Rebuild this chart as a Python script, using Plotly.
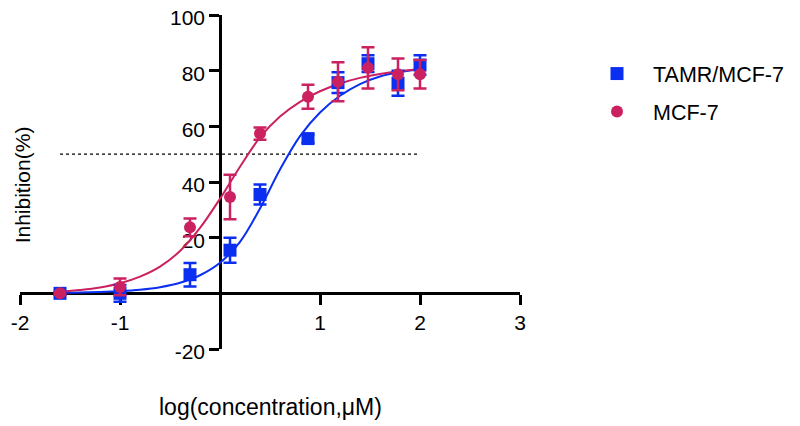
import plotly.graph_objects as go

# Data (log10 concentration, µM)
log_conc = [-1.6, -1.0, -0.3, 0.1, 0.4, 0.88, 1.18, 1.48, 1.78, 2.0]

tamr_mean = [0.0, 0.0, 6.7, 15.5, 35.5, 55.6, 75.7, 82.5, 75.5, 82.0]
tamr_err = [0.5, 3.0, 4.2, 4.5, 3.6, 1.5, 3.7, 3.0, 4.5, 3.5]

mcf7_mean = [0.0, 2.3, 23.7, 34.6, 57.4, 70.6, 76.0, 81.0, 78.7, 78.7]
mcf7_err = [0.5, 3.0, 3.2, 8.0, 2.2, 4.3, 7.0, 7.4, 5.7, 5.1]

# Fitted curves
curve_x = [-1.6, -1.4, -1.2, -1.0, -0.8, -0.6, -0.4, -0.2, 0.0, 0.2,
           0.4, 0.6, 0.8, 1.0, 1.2, 1.4, 1.6, 1.8, 2.0]
tamr_curve = [0.2, 0.3, 0.5, 0.8, 1.3, 2.2, 3.8, 6.5, 11.0, 18.5,
              30.5, 44.5, 56.5, 65.0, 71.0, 75.2, 77.9, 79.5, 80.5]
mcf7_curve = [0.6, 1.2, 2.1, 3.6, 6.0, 9.6, 15.2, 23.5, 34.0, 45.5,
              56.0, 63.5, 68.8, 72.6, 75.4, 77.4, 78.8, 79.8, 80.5]

x_ticks = [-2, -1, 1, 2, 3]
x_ticklabels = ["-2", "-1", "1", "2", "3"]
y_ticks = [-20, 20, 40, 60, 80, 100]
y_ticklabels = ["-20", "20", "40", "60", "80", "100"]
x_range = [-2, 3]
y_range = [-20, 100]
half_line = 50

BLUE = "#0b2ff0"
RED = "#cc2160"
FONT = "Liberation Sans, Arial, sans-serif"

fig = go.Figure()
fig.add_trace(go.Scatter(x=curve_x, y=tamr_curve, mode="lines", line=dict(color=BLUE, width=2, shape="spline"),
                         showlegend=False, hoverinfo="skip"))
fig.add_trace(go.Scatter(x=curve_x, y=mcf7_curve, mode="lines", line=dict(color=RED, width=2, shape="spline"),
                         showlegend=False, hoverinfo="skip"))
fig.add_trace(go.Scatter(x=log_conc, y=tamr_mean, mode="markers", name="TAMR/MCF-7",
                         marker=dict(symbol="square", size=13, color=BLUE),
                         error_y=dict(type="data", array=tamr_err, color=BLUE, thickness=2.5, width=6.5),
                         legendgroup="a"))
fig.add_trace(go.Scatter(x=log_conc, y=mcf7_mean, mode="markers", name="MCF-7",
                         marker=dict(symbol="circle", size=12, color=RED),
                         error_y=dict(type="data", array=mcf7_err, color=RED, thickness=2.5, width=6.5),
                         legendgroup="b"))

fig.add_shape(type="line", x0=min(log_conc), x1=max(log_conc), y0=half_line, y1=half_line,
              xref="x", yref="y", line=dict(color="black", width=1.3, dash="dot"), layer="below")

y_zero_frac = (0 - y_range[0]) / (y_range[1] - y_range[0])
x_zero_frac = (0 - x_range[0]) / (x_range[1] - x_range[0])

fig.update_layout(
    width=792, height=418,
    margin=dict(l=12, r=280, t=7, b=77, autoexpand=False),
    plot_bgcolor="white", paper_bgcolor="white",
    font=dict(family=FONT, size=21, color="black"),
    xaxis=dict(range=x_range, tickvals=x_ticks, ticktext=x_ticklabels, showgrid=False, zeroline=False,
               showline=True, linecolor="black", linewidth=2.5, ticks="outside",
               ticklen=10, tickwidth=2.5, tickcolor="black", anchor="free", position=y_zero_frac,
               layer="below traces", tickfont=dict(size=21), automargin=False,
               ticklabeloverflow="allow"),
    yaxis=dict(range=y_range, tickvals=y_ticks, ticktext=y_ticklabels, showgrid=False, zeroline=False,
               showline=True, linecolor="black", linewidth=2.5, ticks="outside",
               ticklen=10, tickwidth=2.5, tickcolor="black", anchor="free", position=x_zero_frac,
               layer="below traces", tickfont=dict(size=21), automargin=False,
               ticklabeloverflow="allow", ticklabelshift=3),
    legend=dict(x=1.122, y=0.886, xanchor="left", yanchor="top", traceorder="grouped",
                tracegroupgap=7, itemwidth=62, font=dict(size=21.5), bgcolor="rgba(0,0,0,0)"),
    showlegend=True,
)

fig.add_annotation(text="Inhibition(%)", x=0.004, y=0.49, xref="paper", yref="paper",
                   textangle=-90, showarrow=False, font=dict(size=21), xanchor="center", yanchor="middle")
fig.add_annotation(text="log(concentration,μM)", x=0.5, y=-0.175, xref="paper", yref="paper",
                   showarrow=False, font=dict(size=23), xanchor="center", yanchor="middle")

fig.write_html("out.html")
